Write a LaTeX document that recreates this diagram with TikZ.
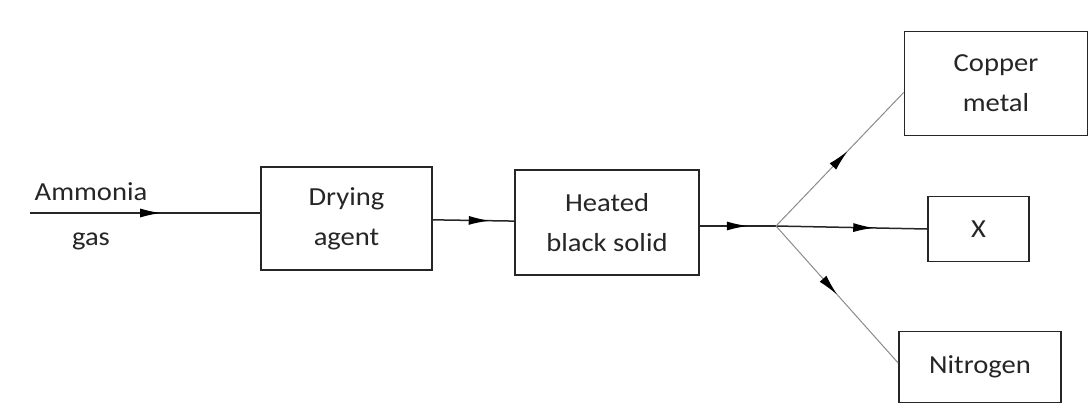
\documentclass[tikz,border=0pt]{standalone}
\usepackage{fontspec}
\setmainfont{Carlito}[FakeStretch=1.1]
\usetikzlibrary{arrows.meta,decorations.markings}
\tikzset{
  box/.style={draw=black!85, line width=1.7pt, minimum width=#1, inner sep=0pt, align=center,
    font=\fontsize{26}{40}\selectfont, text=black!85},
  flowline/.style={draw=black!85, line width=1.5pt},
  thinflow/.style={draw=black!45, line width=1pt},
  midarrow/.style={postaction={decorate,decoration={markings,
     mark=at position #1 with {\arrow[black]{Latex[length=21pt,width=9pt]}}}}},
}
\begin{document}
\begin{tikzpicture}[x=1pt,y=-1pt]
\useasboundingbox[fill=white] (0,0) rectangle (1092,413);
\node[box=171pt, minimum height=103pt] (dry) at (346.5,218.5) {Drying\\agent};
\node[box=184pt, minimum height=105pt] (heat) at (607,222.5) {Heated\\black solid};
\node[box=183pt, minimum height=104pt] (cu) at (996,83.5) {Copper\\metal};
\node[box=101pt, minimum height=65pt] (x) at (978.5,229) {X};
\node[box=162pt, minimum height=71pt] (n2) at (980,367) {Nitrogen};
\node[align=center, font=\fontsize{26}{45}\selectfont, text=black!85, inner sep=0pt] (amm) at (91,216) {Ammonia\\gas};
\coordinate (ammin) at (30,213);
\coordinate (j) at (776,226);
\draw[flowline, midarrow=0.57] (ammin) -- (dry.west |- ammin);
\draw[flowline, midarrow=0.7] (dry) -- (heat);
\draw[flowline, midarrow=0.63] (heat.east |- j) -- (j);
\draw[flowline, midarrow=0.65] (j) -- (x.west);
\draw[thinflow, midarrow=0.56] (j) -- ([yshift=-9pt]cu.west);
\draw[thinflow, midarrow=0.5] (j) -- ([yshift=4pt]n2.west);
\end{tikzpicture}
\end{document}
